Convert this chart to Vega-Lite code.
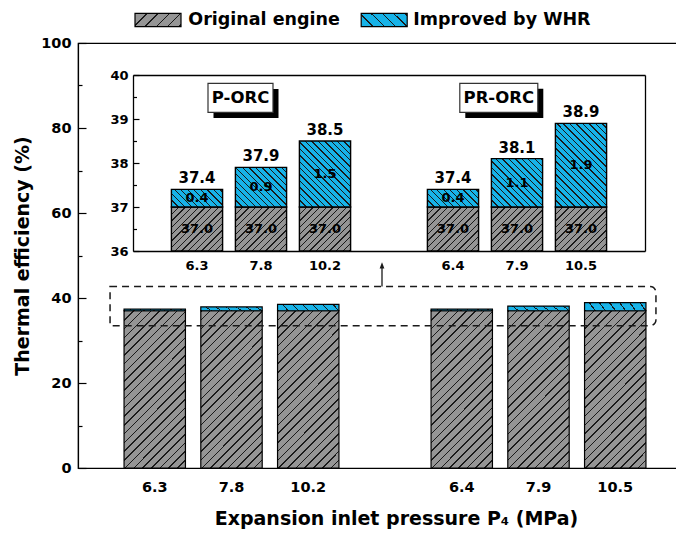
{
  "$schema": "https://vega.github.io/schema/vega-lite/v6.json",
  "width": 614,
  "height": 425,
  "autosize": "none",
  "padding": {"left": 78, "top": 43, "right": 0, "bottom": 66},
  "config": {
    "font": "DejaVu Sans",
    "view": {"stroke": "black", "strokeWidth": 1.2},
    "axis": {"labelFont": "DejaVu Sans", "titleFont": "DejaVu Sans", "labelFontWeight": "bold", "titleFontWeight": "bold", "labelColor": "black", "titleColor": "black", "domainColor": "black", "tickColor": "black", "domainWidth": 1.2, "tickWidth": 1.2, "grid": false},
    "text": {"font": "DejaVu Sans", "color": "black"}
  },
  "datasets": {
    "efficiency": [
      {"cycle": "P-ORC", "p": "6.3", "component": "Original engine", "value": 37.0},
      {"cycle": "P-ORC", "p": "6.3", "component": "Improved by WHR", "value": 0.4},
      {"cycle": "P-ORC", "p": "7.8", "component": "Original engine", "value": 37.0},
      {"cycle": "P-ORC", "p": "7.8", "component": "Improved by WHR", "value": 0.9},
      {"cycle": "P-ORC", "p": "10.2", "component": "Original engine", "value": 37.0},
      {"cycle": "P-ORC", "p": "10.2", "component": "Improved by WHR", "value": 1.5},
      {"cycle": "PR-ORC", "p": "6.4", "component": "Original engine", "value": 37.0},
      {"cycle": "PR-ORC", "p": "6.4", "component": "Improved by WHR", "value": 0.4},
      {"cycle": "PR-ORC", "p": "7.9", "component": "Original engine", "value": 37.0},
      {"cycle": "PR-ORC", "p": "7.9", "component": "Improved by WHR", "value": 1.1},
      {"cycle": "PR-ORC", "p": "10.5", "component": "Original engine", "value": 37.0},
      {"cycle": "PR-ORC", "p": "10.5", "component": "Improved by WHR", "value": 1.9}
    ]
  },
  "layer": [
    {
      "layer": [
        {
          "data": {"name": "efficiency"},
          "mark": {"type": "bar", "stroke": "black", "strokeWidth": 1.2},
          "encoding": {
            "x": {"field": "p", "type": "nominal", "sort": null,
              "scale": {"domain": ["6.3", "7.8", "10.2", " ", "6.4", "7.9", "10.5"], "paddingInner": 0.2, "paddingOuter": 0.6},
              "axis": {"orient": "bottom", "title": "Expansion inlet pressure P₄ (MPa)", "labelAngle": 0, "ticks": false, "labelFontSize": 14.5, "labelPadding": 12, "titleFontSize": 19, "titlePadding": 16, "titleX": 318, "titleAlign": "center"}},
            "y": {"field": "value", "type": "quantitative", "stack": "zero",
              "scale": {"domain": [0, 100], "nice": false},
              "axis": {"orient": "left", "title": "Thermal efficiency (%)", "values": [0, 10, 20, 30, 40, 50, 60, 70, 80, 90, 100],
                "labelExpr": "datum.value % 20 === 0 ? datum.label : ''",
                "tickSize": {"condition": {"test": "datum.value % 20 === 0", "value": -8}, "value": -4},
                "labelPadding": 15, "labelFontSize": 14.5, "titleFontSize": 19, "titlePadding": 8}},
            "order": {"field": "component", "sort": "descending"},
            "fill": {
              "field": "component", "type": "nominal",
              "scale": {"domain": ["Original engine", "Improved by WHR"], "range": ["#959595", "#17b3e8"]},
              "legend": null,
              "condition": [
                {"test": "datum.component === 'Original engine'", "value": {"gradient": "linear", "x1": 0, "y1": 0, "x2": 0.4714, "y2": 1.2066, "stops": [
                  {"offset": 0, "color": "#1a1a1a"}, {"offset": 0.007, "color": "#1a1a1a"}, {"offset": 0.007, "color": "#959595"}, {"offset": 0.04, "color": "#959595"},
                  {"offset": 0.04, "color": "#1a1a1a"}, {"offset": 0.047, "color": "#1a1a1a"}, {"offset": 0.047, "color": "#959595"}, {"offset": 0.08, "color": "#959595"},
                  {"offset": 0.08, "color": "#1a1a1a"}, {"offset": 0.087, "color": "#1a1a1a"}, {"offset": 0.087, "color": "#959595"}, {"offset": 0.12, "color": "#959595"},
                  {"offset": 0.12, "color": "#1a1a1a"}, {"offset": 0.127, "color": "#1a1a1a"}, {"offset": 0.127, "color": "#959595"}, {"offset": 0.16, "color": "#959595"},
                  {"offset": 0.16, "color": "#1a1a1a"}, {"offset": 0.167, "color": "#1a1a1a"}, {"offset": 0.167, "color": "#959595"}, {"offset": 0.2, "color": "#959595"},
                  {"offset": 0.2, "color": "#1a1a1a"}, {"offset": 0.207, "color": "#1a1a1a"}, {"offset": 0.207, "color": "#959595"}, {"offset": 0.24, "color": "#959595"},
                  {"offset": 0.24, "color": "#1a1a1a"}, {"offset": 0.247, "color": "#1a1a1a"}, {"offset": 0.247, "color": "#959595"}, {"offset": 0.28, "color": "#959595"},
                  {"offset": 0.28, "color": "#1a1a1a"}, {"offset": 0.287, "color": "#1a1a1a"}, {"offset": 0.287, "color": "#959595"}, {"offset": 0.32, "color": "#959595"},
                  {"offset": 0.32, "color": "#1a1a1a"}, {"offset": 0.327, "color": "#1a1a1a"}, {"offset": 0.327, "color": "#959595"}, {"offset": 0.36, "color": "#959595"},
                  {"offset": 0.36, "color": "#1a1a1a"}, {"offset": 0.367, "color": "#1a1a1a"}, {"offset": 0.367, "color": "#959595"}, {"offset": 0.4, "color": "#959595"},
                  {"offset": 0.4, "color": "#1a1a1a"}, {"offset": 0.407, "color": "#1a1a1a"}, {"offset": 0.407, "color": "#959595"}, {"offset": 0.44, "color": "#959595"},
                  {"offset": 0.44, "color": "#1a1a1a"}, {"offset": 0.447, "color": "#1a1a1a"}, {"offset": 0.447, "color": "#959595"}, {"offset": 0.48, "color": "#959595"},
                  {"offset": 0.48, "color": "#1a1a1a"}, {"offset": 0.487, "color": "#1a1a1a"}, {"offset": 0.487, "color": "#959595"}, {"offset": 0.52, "color": "#959595"},
                  {"offset": 0.52, "color": "#1a1a1a"}, {"offset": 0.527, "color": "#1a1a1a"}, {"offset": 0.527, "color": "#959595"}, {"offset": 0.56, "color": "#959595"},
                  {"offset": 0.56, "color": "#1a1a1a"}, {"offset": 0.567, "color": "#1a1a1a"}, {"offset": 0.567, "color": "#959595"}, {"offset": 0.6, "color": "#959595"},
                  {"offset": 0.6, "color": "#1a1a1a"}, {"offset": 0.607, "color": "#1a1a1a"}, {"offset": 0.607, "color": "#959595"}, {"offset": 0.64, "color": "#959595"},
                  {"offset": 0.64, "color": "#1a1a1a"}, {"offset": 0.647, "color": "#1a1a1a"}, {"offset": 0.647, "color": "#959595"}, {"offset": 0.68, "color": "#959595"},
                  {"offset": 0.68, "color": "#1a1a1a"}, {"offset": 0.687, "color": "#1a1a1a"}, {"offset": 0.687, "color": "#959595"}, {"offset": 0.72, "color": "#959595"},
                  {"offset": 0.72, "color": "#1a1a1a"}, {"offset": 0.727, "color": "#1a1a1a"}, {"offset": 0.727, "color": "#959595"}, {"offset": 0.76, "color": "#959595"},
                  {"offset": 0.76, "color": "#1a1a1a"}, {"offset": 0.767, "color": "#1a1a1a"}, {"offset": 0.767, "color": "#959595"}, {"offset": 0.8, "color": "#959595"},
                  {"offset": 0.8, "color": "#1a1a1a"}, {"offset": 0.807, "color": "#1a1a1a"}, {"offset": 0.807, "color": "#959595"}, {"offset": 0.84, "color": "#959595"},
                  {"offset": 0.84, "color": "#1a1a1a"}, {"offset": 0.847, "color": "#1a1a1a"}, {"offset": 0.847, "color": "#959595"}, {"offset": 0.88, "color": "#959595"},
                  {"offset": 0.88, "color": "#1a1a1a"}, {"offset": 0.887, "color": "#1a1a1a"}, {"offset": 0.887, "color": "#959595"}, {"offset": 0.92, "color": "#959595"},
                  {"offset": 0.92, "color": "#1a1a1a"}, {"offset": 0.927, "color": "#1a1a1a"}, {"offset": 0.927, "color": "#959595"}, {"offset": 0.96, "color": "#959595"},
                  {"offset": 0.96, "color": "#1a1a1a"}, {"offset": 0.967, "color": "#1a1a1a"}, {"offset": 0.967, "color": "#959595"}, {"offset": 1, "color": "#959595"}]}},
                {"test": "datum.component === 'Improved by WHR'", "value": {"gradient": "linear", "x1": 0, "y1": 1, "x2": 1.0866, "y2": 0.8939, "stops": [
                  {"offset": 0, "color": "#1a1a1a"}, {"offset": 0.02, "color": "#1a1a1a"}, {"offset": 0.02, "color": "#17b3e8"}, {"offset": 0.15, "color": "#17b3e8"},
                  {"offset": 0.15, "color": "#1a1a1a"}, {"offset": 0.17, "color": "#1a1a1a"}, {"offset": 0.17, "color": "#17b3e8"}, {"offset": 0.3, "color": "#17b3e8"},
                  {"offset": 0.3, "color": "#1a1a1a"}, {"offset": 0.32, "color": "#1a1a1a"}, {"offset": 0.32, "color": "#17b3e8"}, {"offset": 0.45, "color": "#17b3e8"},
                  {"offset": 0.45, "color": "#1a1a1a"}, {"offset": 0.47, "color": "#1a1a1a"}, {"offset": 0.47, "color": "#17b3e8"}, {"offset": 0.6, "color": "#17b3e8"},
                  {"offset": 0.6, "color": "#1a1a1a"}, {"offset": 0.62, "color": "#1a1a1a"}, {"offset": 0.62, "color": "#17b3e8"}, {"offset": 0.75, "color": "#17b3e8"},
                  {"offset": 0.75, "color": "#1a1a1a"}, {"offset": 0.77, "color": "#1a1a1a"}, {"offset": 0.77, "color": "#17b3e8"}, {"offset": 0.9, "color": "#17b3e8"},
                  {"offset": 0.9, "color": "#1a1a1a"}, {"offset": 0.92, "color": "#1a1a1a"}, {"offset": 0.92, "color": "#17b3e8"}, {"offset": 1, "color": "#17b3e8"}]}}
              ]
            }
          }
        },
        {
          "data": {"values": [{"component": "Original engine"}]},
          "layer": [
            {"mark": {"type": "point", "shape": "M-1,-0.29H1V0.29H-1Z", "size": 2116, "filled": true, "opacity": 1, "stroke": "black", "strokeWidth": 1.2, "xOffset": 3.25,
              "fill": {"gradient": "linear", "x1": 0, "y1": 0, "x2": 1.1903, "y2": 0.3467, "stops": [
                {"offset": 0, "color": "#1a1a1a"}, {"offset": 0.024, "color": "#1a1a1a"}, {"offset": 0.024, "color": "#959595"}, {"offset": 0.19, "color": "#959595"},
                {"offset": 0.19, "color": "#1a1a1a"}, {"offset": 0.214, "color": "#1a1a1a"}, {"offset": 0.214, "color": "#959595"}, {"offset": 0.38, "color": "#959595"},
                {"offset": 0.38, "color": "#1a1a1a"}, {"offset": 0.404, "color": "#1a1a1a"}, {"offset": 0.404, "color": "#959595"}, {"offset": 0.57, "color": "#959595"},
                {"offset": 0.57, "color": "#1a1a1a"}, {"offset": 0.594, "color": "#1a1a1a"}, {"offset": 0.594, "color": "#959595"}, {"offset": 0.76, "color": "#959595"},
                {"offset": 0.76, "color": "#1a1a1a"}, {"offset": 0.784, "color": "#1a1a1a"}, {"offset": 0.784, "color": "#959595"}, {"offset": 0.95, "color": "#959595"},
                {"offset": 0.95, "color": "#1a1a1a"}, {"offset": 0.974, "color": "#1a1a1a"}, {"offset": 0.974, "color": "#959595"}, {"offset": 1, "color": "#959595"}]}}},
            {"mark": {"type": "text", "fontSize": 17.5, "fontWeight": "bold", "align": "left", "baseline": "middle", "xOffset": 33.5}, "encoding": {"text": {"field": "component"}}}
          ],
          "encoding": {
            "x": {"datum": "6.3", "type": "nominal"},
            "y": {"datum": 105.4, "type": "quantitative"}
          }
        },
        {
          "data": {"values": [{"component": "Improved by WHR"}]},
          "layer": [
            {"mark": {"type": "point", "shape": "M-1,-0.29H1V0.29H-1Z", "size": 2116, "filled": true, "opacity": 1, "stroke": "black", "strokeWidth": 1.2, "xOffset": -0.8,
              "fill": {"gradient": "linear", "x1": 0, "y1": 1, "x2": 1.1903, "y2": 0.6533, "stops": [
                {"offset": 0, "color": "#1a1a1a"}, {"offset": 0.024, "color": "#1a1a1a"}, {"offset": 0.024, "color": "#17b3e8"}, {"offset": 0.19, "color": "#17b3e8"},
                {"offset": 0.19, "color": "#1a1a1a"}, {"offset": 0.214, "color": "#1a1a1a"}, {"offset": 0.214, "color": "#17b3e8"}, {"offset": 0.38, "color": "#17b3e8"},
                {"offset": 0.38, "color": "#1a1a1a"}, {"offset": 0.404, "color": "#1a1a1a"}, {"offset": 0.404, "color": "#17b3e8"}, {"offset": 0.57, "color": "#17b3e8"},
                {"offset": 0.57, "color": "#1a1a1a"}, {"offset": 0.594, "color": "#1a1a1a"}, {"offset": 0.594, "color": "#17b3e8"}, {"offset": 0.76, "color": "#17b3e8"},
                {"offset": 0.76, "color": "#1a1a1a"}, {"offset": 0.784, "color": "#1a1a1a"}, {"offset": 0.784, "color": "#17b3e8"}, {"offset": 0.95, "color": "#17b3e8"},
                {"offset": 0.95, "color": "#1a1a1a"}, {"offset": 0.974, "color": "#1a1a1a"}, {"offset": 0.974, "color": "#17b3e8"}, {"offset": 1, "color": "#17b3e8"}]}}},
            {"mark": {"type": "text", "fontSize": 17.5, "fontWeight": "bold", "align": "left", "baseline": "middle", "xOffset": 28.3}, "encoding": {"text": {"field": "component"}}}
          ],
          "encoding": {
            "x": {"datum": " ", "type": "nominal"},
            "y": {"datum": 105.4, "type": "quantitative"}
          }
        },
        {
          "data": {"values": [{}]},
          "mark": {"type": "rect", "fill": "white", "fillOpacity": 0, "stroke": "#1a1a1a", "strokeWidth": 1.5, "strokeDash": [7, 5], "cornerRadiusTopRight": 6, "cornerRadiusBottomRight": 6, "xOffset": -14, "x2Offset": 10},
          "encoding": {
            "x": {"datum": "6.3", "type": "nominal", "bandPosition": 0},
            "x2": {"datum": "10.5", "bandPosition": 1},
            "y": {"datum": 33.5, "type": "quantitative"},
            "y2": {"datum": 42.7}
          }
        },
        {
          "data": {"values": [{}]},
          "mark": {"type": "rule", "stroke": "#1a1a1a", "strokeWidth": 1.3, "xOffset": -3},
          "encoding": {
            "x": {"datum": " ", "type": "nominal"},
            "y": {"datum": 42.7, "type": "quantitative"},
            "y2": {"datum": 47.2}
          }
        },
        {
          "data": {"values": [{}]},
          "mark": {"type": "point", "shape": "M0,-1L0.6,0.6L-0.6,0.6Z", "size": 64, "filled": true, "fill": "#1a1a1a", "opacity": 1, "strokeWidth": 0, "xOffset": -3},
          "encoding": {
            "x": {"datum": " ", "type": "nominal"},
            "y": {"datum": 47.5, "type": "quantitative"}
          }
        }
      ]
    },
    {
      "layer": [
        {
          "data": {"name": "efficiency"},
          "mark": {"type": "bar", "stroke": "black", "strokeWidth": 1.4},
          "encoding": {
            "x": {"field": "p", "type": "nominal", "sort": null,
              "scale": {"domain": ["6.3", "7.8", "10.2", " ", "6.4", "7.9", "10.5"], "range": [55, 567], "paddingInner": 0.2, "paddingOuter": 0.6},
              "axis": {"orient": "bottom", "offset": -217, "title": null, "labelAngle": 0, "ticks": false, "labelFontSize": 13, "labelPadding": 8, "domainWidth": 1.3}},
            "y": {"field": "value", "type": "quantitative", "stack": "zero",
              "scale": {"domain": [36, 40], "range": [208, 32], "clamp": true, "zero": false, "nice": false},
              "axis": {"orient": "left", "offset": -55, "title": null, "values": [36, 36.5, 37, 37.5, 38, 38.5, 39, 39.5, 40],
                "labelExpr": "datum.value % 1 === 0 ? format(datum.value, 'd') : ''",
                "tickSize": {"condition": {"test": "datum.value % 1 === 0", "value": -6}, "value": -3.5},
                "labelPadding": 11, "labelFontSize": 13, "domainWidth": 1.3}},
            "order": {"field": "component", "sort": "descending"},
            "detail": {"field": "component"},
            "fill": {
              "condition": [
                {"test": "datum.component === 'Original engine'", "value": {"gradient": "linear", "x1": 0, "y1": 0, "x2": 1.0695, "y2": 0.9191, "stops": [
                  {"offset": 0, "color": "#1a1a1a"}, {"offset": 0.015, "color": "#1a1a1a"}, {"offset": 0.015, "color": "#959595"}, {"offset": 0.07, "color": "#959595"},
                  {"offset": 0.07, "color": "#1a1a1a"}, {"offset": 0.085, "color": "#1a1a1a"}, {"offset": 0.085, "color": "#959595"}, {"offset": 0.14, "color": "#959595"},
                  {"offset": 0.14, "color": "#1a1a1a"}, {"offset": 0.155, "color": "#1a1a1a"}, {"offset": 0.155, "color": "#959595"}, {"offset": 0.21, "color": "#959595"},
                  {"offset": 0.21, "color": "#1a1a1a"}, {"offset": 0.225, "color": "#1a1a1a"}, {"offset": 0.225, "color": "#959595"}, {"offset": 0.28, "color": "#959595"},
                  {"offset": 0.28, "color": "#1a1a1a"}, {"offset": 0.295, "color": "#1a1a1a"}, {"offset": 0.295, "color": "#959595"}, {"offset": 0.35, "color": "#959595"},
                  {"offset": 0.35, "color": "#1a1a1a"}, {"offset": 0.365, "color": "#1a1a1a"}, {"offset": 0.365, "color": "#959595"}, {"offset": 0.42, "color": "#959595"},
                  {"offset": 0.42, "color": "#1a1a1a"}, {"offset": 0.435, "color": "#1a1a1a"}, {"offset": 0.435, "color": "#959595"}, {"offset": 0.49, "color": "#959595"},
                  {"offset": 0.49, "color": "#1a1a1a"}, {"offset": 0.505, "color": "#1a1a1a"}, {"offset": 0.505, "color": "#959595"}, {"offset": 0.56, "color": "#959595"},
                  {"offset": 0.56, "color": "#1a1a1a"}, {"offset": 0.575, "color": "#1a1a1a"}, {"offset": 0.575, "color": "#959595"}, {"offset": 0.63, "color": "#959595"},
                  {"offset": 0.63, "color": "#1a1a1a"}, {"offset": 0.645, "color": "#1a1a1a"}, {"offset": 0.645, "color": "#959595"}, {"offset": 0.7, "color": "#959595"},
                  {"offset": 0.7, "color": "#1a1a1a"}, {"offset": 0.715, "color": "#1a1a1a"}, {"offset": 0.715, "color": "#959595"}, {"offset": 0.77, "color": "#959595"},
                  {"offset": 0.77, "color": "#1a1a1a"}, {"offset": 0.785, "color": "#1a1a1a"}, {"offset": 0.785, "color": "#959595"}, {"offset": 0.84, "color": "#959595"},
                  {"offset": 0.84, "color": "#1a1a1a"}, {"offset": 0.855, "color": "#1a1a1a"}, {"offset": 0.855, "color": "#959595"}, {"offset": 0.91, "color": "#959595"},
                  {"offset": 0.91, "color": "#1a1a1a"}, {"offset": 0.925, "color": "#1a1a1a"}, {"offset": 0.925, "color": "#959595"}, {"offset": 0.98, "color": "#959595"},
                  {"offset": 0.98, "color": "#1a1a1a"}, {"offset": 0.995, "color": "#1a1a1a"}, {"offset": 0.995, "color": "#959595"}, {"offset": 1, "color": "#959595"}]}},
                {"test": "datum.value === 0.4", "value": {"gradient": "linear", "x1": 0, "y1": 1, "x2": 1.2018, "y2": 0.5869, "stops": [
                  {"offset": 0, "color": "#1a1a1a"}, {"offset": 0.02, "color": "#1a1a1a"}, {"offset": 0.02, "color": "#17b3e8"}, {"offset": 0.095, "color": "#17b3e8"},
                  {"offset": 0.095, "color": "#1a1a1a"}, {"offset": 0.115, "color": "#1a1a1a"}, {"offset": 0.115, "color": "#17b3e8"}, {"offset": 0.19, "color": "#17b3e8"},
                  {"offset": 0.19, "color": "#1a1a1a"}, {"offset": 0.21, "color": "#1a1a1a"}, {"offset": 0.21, "color": "#17b3e8"}, {"offset": 0.285, "color": "#17b3e8"},
                  {"offset": 0.285, "color": "#1a1a1a"}, {"offset": 0.305, "color": "#1a1a1a"}, {"offset": 0.305, "color": "#17b3e8"}, {"offset": 0.38, "color": "#17b3e8"},
                  {"offset": 0.38, "color": "#1a1a1a"}, {"offset": 0.4, "color": "#1a1a1a"}, {"offset": 0.4, "color": "#17b3e8"}, {"offset": 0.475, "color": "#17b3e8"},
                  {"offset": 0.475, "color": "#1a1a1a"}, {"offset": 0.495, "color": "#1a1a1a"}, {"offset": 0.495, "color": "#17b3e8"}, {"offset": 0.57, "color": "#17b3e8"},
                  {"offset": 0.57, "color": "#1a1a1a"}, {"offset": 0.59, "color": "#1a1a1a"}, {"offset": 0.59, "color": "#17b3e8"}, {"offset": 0.665, "color": "#17b3e8"},
                  {"offset": 0.665, "color": "#1a1a1a"}, {"offset": 0.685, "color": "#1a1a1a"}, {"offset": 0.685, "color": "#17b3e8"}, {"offset": 0.76, "color": "#17b3e8"},
                  {"offset": 0.76, "color": "#1a1a1a"}, {"offset": 0.78, "color": "#1a1a1a"}, {"offset": 0.78, "color": "#17b3e8"}, {"offset": 0.855, "color": "#17b3e8"},
                  {"offset": 0.855, "color": "#1a1a1a"}, {"offset": 0.875, "color": "#1a1a1a"}, {"offset": 0.875, "color": "#17b3e8"}, {"offset": 0.95, "color": "#17b3e8"},
                  {"offset": 0.95, "color": "#1a1a1a"}, {"offset": 0.97, "color": "#1a1a1a"}, {"offset": 0.97, "color": "#17b3e8"}, {"offset": 1, "color": "#17b3e8"}]}},
                {"test": "datum.value === 0.9", "value": {"gradient": "linear", "x1": 0, "y1": 1, "x2": 1.1097, "y2": 0.1418, "stops": [
                  {"offset": 0, "color": "#1a1a1a"}, {"offset": 0.015, "color": "#1a1a1a"}, {"offset": 0.015, "color": "#17b3e8"}, {"offset": 0.072, "color": "#17b3e8"},
                  {"offset": 0.072, "color": "#1a1a1a"}, {"offset": 0.087, "color": "#1a1a1a"}, {"offset": 0.087, "color": "#17b3e8"}, {"offset": 0.144, "color": "#17b3e8"},
                  {"offset": 0.144, "color": "#1a1a1a"}, {"offset": 0.159, "color": "#1a1a1a"}, {"offset": 0.159, "color": "#17b3e8"}, {"offset": 0.216, "color": "#17b3e8"},
                  {"offset": 0.216, "color": "#1a1a1a"}, {"offset": 0.231, "color": "#1a1a1a"}, {"offset": 0.231, "color": "#17b3e8"}, {"offset": 0.288, "color": "#17b3e8"},
                  {"offset": 0.288, "color": "#1a1a1a"}, {"offset": 0.303, "color": "#1a1a1a"}, {"offset": 0.303, "color": "#17b3e8"}, {"offset": 0.36, "color": "#17b3e8"},
                  {"offset": 0.36, "color": "#1a1a1a"}, {"offset": 0.375, "color": "#1a1a1a"}, {"offset": 0.375, "color": "#17b3e8"}, {"offset": 0.432, "color": "#17b3e8"},
                  {"offset": 0.432, "color": "#1a1a1a"}, {"offset": 0.447, "color": "#1a1a1a"}, {"offset": 0.447, "color": "#17b3e8"}, {"offset": 0.504, "color": "#17b3e8"},
                  {"offset": 0.504, "color": "#1a1a1a"}, {"offset": 0.519, "color": "#1a1a1a"}, {"offset": 0.519, "color": "#17b3e8"}, {"offset": 0.576, "color": "#17b3e8"},
                  {"offset": 0.576, "color": "#1a1a1a"}, {"offset": 0.591, "color": "#1a1a1a"}, {"offset": 0.591, "color": "#17b3e8"}, {"offset": 0.648, "color": "#17b3e8"},
                  {"offset": 0.648, "color": "#1a1a1a"}, {"offset": 0.663, "color": "#1a1a1a"}, {"offset": 0.663, "color": "#17b3e8"}, {"offset": 0.72, "color": "#17b3e8"},
                  {"offset": 0.72, "color": "#1a1a1a"}, {"offset": 0.735, "color": "#1a1a1a"}, {"offset": 0.735, "color": "#17b3e8"}, {"offset": 0.792, "color": "#17b3e8"},
                  {"offset": 0.792, "color": "#1a1a1a"}, {"offset": 0.807, "color": "#1a1a1a"}, {"offset": 0.807, "color": "#17b3e8"}, {"offset": 0.864, "color": "#17b3e8"},
                  {"offset": 0.864, "color": "#1a1a1a"}, {"offset": 0.879, "color": "#1a1a1a"}, {"offset": 0.879, "color": "#17b3e8"}, {"offset": 0.936, "color": "#17b3e8"},
                  {"offset": 0.936, "color": "#1a1a1a"}, {"offset": 0.951, "color": "#1a1a1a"}, {"offset": 0.951, "color": "#17b3e8"}, {"offset": 1, "color": "#17b3e8"}]}},
                {"test": "datum.value === 1.5", "value": {"gradient": "linear", "x1": 0, "y1": 1, "x2": 0.86, "y2": -0.1086, "stops": [
                  {"offset": 0, "color": "#1a1a1a"}, {"offset": 0.012, "color": "#1a1a1a"}, {"offset": 0.012, "color": "#17b3e8"}, {"offset": 0.055, "color": "#17b3e8"},
                  {"offset": 0.055, "color": "#1a1a1a"}, {"offset": 0.067, "color": "#1a1a1a"}, {"offset": 0.067, "color": "#17b3e8"}, {"offset": 0.11, "color": "#17b3e8"},
                  {"offset": 0.11, "color": "#1a1a1a"}, {"offset": 0.122, "color": "#1a1a1a"}, {"offset": 0.122, "color": "#17b3e8"}, {"offset": 0.165, "color": "#17b3e8"},
                  {"offset": 0.165, "color": "#1a1a1a"}, {"offset": 0.177, "color": "#1a1a1a"}, {"offset": 0.177, "color": "#17b3e8"}, {"offset": 0.22, "color": "#17b3e8"},
                  {"offset": 0.22, "color": "#1a1a1a"}, {"offset": 0.232, "color": "#1a1a1a"}, {"offset": 0.232, "color": "#17b3e8"}, {"offset": 0.275, "color": "#17b3e8"},
                  {"offset": 0.275, "color": "#1a1a1a"}, {"offset": 0.287, "color": "#1a1a1a"}, {"offset": 0.287, "color": "#17b3e8"}, {"offset": 0.33, "color": "#17b3e8"},
                  {"offset": 0.33, "color": "#1a1a1a"}, {"offset": 0.342, "color": "#1a1a1a"}, {"offset": 0.342, "color": "#17b3e8"}, {"offset": 0.385, "color": "#17b3e8"},
                  {"offset": 0.385, "color": "#1a1a1a"}, {"offset": 0.397, "color": "#1a1a1a"}, {"offset": 0.397, "color": "#17b3e8"}, {"offset": 0.44, "color": "#17b3e8"},
                  {"offset": 0.44, "color": "#1a1a1a"}, {"offset": 0.452, "color": "#1a1a1a"}, {"offset": 0.452, "color": "#17b3e8"}, {"offset": 0.495, "color": "#17b3e8"},
                  {"offset": 0.495, "color": "#1a1a1a"}, {"offset": 0.507, "color": "#1a1a1a"}, {"offset": 0.507, "color": "#17b3e8"}, {"offset": 0.55, "color": "#17b3e8"},
                  {"offset": 0.55, "color": "#1a1a1a"}, {"offset": 0.562, "color": "#1a1a1a"}, {"offset": 0.562, "color": "#17b3e8"}, {"offset": 0.605, "color": "#17b3e8"},
                  {"offset": 0.605, "color": "#1a1a1a"}, {"offset": 0.617, "color": "#1a1a1a"}, {"offset": 0.617, "color": "#17b3e8"}, {"offset": 0.66, "color": "#17b3e8"},
                  {"offset": 0.66, "color": "#1a1a1a"}, {"offset": 0.672, "color": "#1a1a1a"}, {"offset": 0.672, "color": "#17b3e8"}, {"offset": 0.715, "color": "#17b3e8"},
                  {"offset": 0.715, "color": "#1a1a1a"}, {"offset": 0.727, "color": "#1a1a1a"}, {"offset": 0.727, "color": "#17b3e8"}, {"offset": 0.77, "color": "#17b3e8"},
                  {"offset": 0.77, "color": "#1a1a1a"}, {"offset": 0.782, "color": "#1a1a1a"}, {"offset": 0.782, "color": "#17b3e8"}, {"offset": 0.825, "color": "#17b3e8"},
                  {"offset": 0.825, "color": "#1a1a1a"}, {"offset": 0.837, "color": "#1a1a1a"}, {"offset": 0.837, "color": "#17b3e8"}, {"offset": 0.88, "color": "#17b3e8"},
                  {"offset": 0.88, "color": "#1a1a1a"}, {"offset": 0.892, "color": "#1a1a1a"}, {"offset": 0.892, "color": "#17b3e8"}, {"offset": 0.935, "color": "#17b3e8"},
                  {"offset": 0.935, "color": "#1a1a1a"}, {"offset": 0.947, "color": "#1a1a1a"}, {"offset": 0.947, "color": "#17b3e8"}, {"offset": 0.99, "color": "#17b3e8"},
                  {"offset": 0.99, "color": "#1a1a1a"}, {"offset": 1, "color": "#1a1a1a"}]}},
                {"test": "datum.value === 1.1", "value": {"gradient": "linear", "x1": 0, "y1": 1, "x2": 1.0273, "y2": 0.0289, "stops": [
                  {"offset": 0, "color": "#1a1a1a"}, {"offset": 0.014, "color": "#1a1a1a"}, {"offset": 0.014, "color": "#17b3e8"}, {"offset": 0.065, "color": "#17b3e8"},
                  {"offset": 0.065, "color": "#1a1a1a"}, {"offset": 0.079, "color": "#1a1a1a"}, {"offset": 0.079, "color": "#17b3e8"}, {"offset": 0.13, "color": "#17b3e8"},
                  {"offset": 0.13, "color": "#1a1a1a"}, {"offset": 0.144, "color": "#1a1a1a"}, {"offset": 0.144, "color": "#17b3e8"}, {"offset": 0.195, "color": "#17b3e8"},
                  {"offset": 0.195, "color": "#1a1a1a"}, {"offset": 0.209, "color": "#1a1a1a"}, {"offset": 0.209, "color": "#17b3e8"}, {"offset": 0.26, "color": "#17b3e8"},
                  {"offset": 0.26, "color": "#1a1a1a"}, {"offset": 0.274, "color": "#1a1a1a"}, {"offset": 0.274, "color": "#17b3e8"}, {"offset": 0.325, "color": "#17b3e8"},
                  {"offset": 0.325, "color": "#1a1a1a"}, {"offset": 0.339, "color": "#1a1a1a"}, {"offset": 0.339, "color": "#17b3e8"}, {"offset": 0.39, "color": "#17b3e8"},
                  {"offset": 0.39, "color": "#1a1a1a"}, {"offset": 0.404, "color": "#1a1a1a"}, {"offset": 0.404, "color": "#17b3e8"}, {"offset": 0.455, "color": "#17b3e8"},
                  {"offset": 0.455, "color": "#1a1a1a"}, {"offset": 0.469, "color": "#1a1a1a"}, {"offset": 0.469, "color": "#17b3e8"}, {"offset": 0.52, "color": "#17b3e8"},
                  {"offset": 0.52, "color": "#1a1a1a"}, {"offset": 0.534, "color": "#1a1a1a"}, {"offset": 0.534, "color": "#17b3e8"}, {"offset": 0.585, "color": "#17b3e8"},
                  {"offset": 0.585, "color": "#1a1a1a"}, {"offset": 0.599, "color": "#1a1a1a"}, {"offset": 0.599, "color": "#17b3e8"}, {"offset": 0.65, "color": "#17b3e8"},
                  {"offset": 0.65, "color": "#1a1a1a"}, {"offset": 0.664, "color": "#1a1a1a"}, {"offset": 0.664, "color": "#17b3e8"}, {"offset": 0.715, "color": "#17b3e8"},
                  {"offset": 0.715, "color": "#1a1a1a"}, {"offset": 0.729, "color": "#1a1a1a"}, {"offset": 0.729, "color": "#17b3e8"}, {"offset": 0.78, "color": "#17b3e8"},
                  {"offset": 0.78, "color": "#1a1a1a"}, {"offset": 0.794, "color": "#1a1a1a"}, {"offset": 0.794, "color": "#17b3e8"}, {"offset": 0.845, "color": "#17b3e8"},
                  {"offset": 0.845, "color": "#1a1a1a"}, {"offset": 0.859, "color": "#1a1a1a"}, {"offset": 0.859, "color": "#17b3e8"}, {"offset": 0.91, "color": "#17b3e8"},
                  {"offset": 0.91, "color": "#1a1a1a"}, {"offset": 0.924, "color": "#1a1a1a"}, {"offset": 0.924, "color": "#17b3e8"}, {"offset": 0.975, "color": "#17b3e8"},
                  {"offset": 0.975, "color": "#1a1a1a"}, {"offset": 0.989, "color": "#1a1a1a"}, {"offset": 0.989, "color": "#17b3e8"}, {"offset": 1, "color": "#17b3e8"}]}}
              ],
              "value": {"gradient": "linear", "x1": 0, "y1": 1, "x2": 0.7182, "y2": -0.1726, "stops": [
                {"offset": 0, "color": "#1a1a1a"}, {"offset": 0.011, "color": "#1a1a1a"}, {"offset": 0.011, "color": "#17b3e8"}, {"offset": 0.048, "color": "#17b3e8"},
                {"offset": 0.048, "color": "#1a1a1a"}, {"offset": 0.059, "color": "#1a1a1a"}, {"offset": 0.059, "color": "#17b3e8"}, {"offset": 0.096, "color": "#17b3e8"},
                {"offset": 0.096, "color": "#1a1a1a"}, {"offset": 0.107, "color": "#1a1a1a"}, {"offset": 0.107, "color": "#17b3e8"}, {"offset": 0.144, "color": "#17b3e8"},
                {"offset": 0.144, "color": "#1a1a1a"}, {"offset": 0.155, "color": "#1a1a1a"}, {"offset": 0.155, "color": "#17b3e8"}, {"offset": 0.192, "color": "#17b3e8"},
                {"offset": 0.192, "color": "#1a1a1a"}, {"offset": 0.203, "color": "#1a1a1a"}, {"offset": 0.203, "color": "#17b3e8"}, {"offset": 0.24, "color": "#17b3e8"},
                {"offset": 0.24, "color": "#1a1a1a"}, {"offset": 0.251, "color": "#1a1a1a"}, {"offset": 0.251, "color": "#17b3e8"}, {"offset": 0.288, "color": "#17b3e8"},
                {"offset": 0.288, "color": "#1a1a1a"}, {"offset": 0.299, "color": "#1a1a1a"}, {"offset": 0.299, "color": "#17b3e8"}, {"offset": 0.336, "color": "#17b3e8"},
                {"offset": 0.336, "color": "#1a1a1a"}, {"offset": 0.347, "color": "#1a1a1a"}, {"offset": 0.347, "color": "#17b3e8"}, {"offset": 0.384, "color": "#17b3e8"},
                {"offset": 0.384, "color": "#1a1a1a"}, {"offset": 0.395, "color": "#1a1a1a"}, {"offset": 0.395, "color": "#17b3e8"}, {"offset": 0.432, "color": "#17b3e8"},
                {"offset": 0.432, "color": "#1a1a1a"}, {"offset": 0.443, "color": "#1a1a1a"}, {"offset": 0.443, "color": "#17b3e8"}, {"offset": 0.48, "color": "#17b3e8"},
                {"offset": 0.48, "color": "#1a1a1a"}, {"offset": 0.491, "color": "#1a1a1a"}, {"offset": 0.491, "color": "#17b3e8"}, {"offset": 0.528, "color": "#17b3e8"},
                {"offset": 0.528, "color": "#1a1a1a"}, {"offset": 0.539, "color": "#1a1a1a"}, {"offset": 0.539, "color": "#17b3e8"}, {"offset": 0.576, "color": "#17b3e8"},
                {"offset": 0.576, "color": "#1a1a1a"}, {"offset": 0.587, "color": "#1a1a1a"}, {"offset": 0.587, "color": "#17b3e8"}, {"offset": 0.624, "color": "#17b3e8"},
                {"offset": 0.624, "color": "#1a1a1a"}, {"offset": 0.635, "color": "#1a1a1a"}, {"offset": 0.635, "color": "#17b3e8"}, {"offset": 0.672, "color": "#17b3e8"},
                {"offset": 0.672, "color": "#1a1a1a"}, {"offset": 0.683, "color": "#1a1a1a"}, {"offset": 0.683, "color": "#17b3e8"}, {"offset": 0.72, "color": "#17b3e8"},
                {"offset": 0.72, "color": "#1a1a1a"}, {"offset": 0.731, "color": "#1a1a1a"}, {"offset": 0.731, "color": "#17b3e8"}, {"offset": 0.768, "color": "#17b3e8"},
                {"offset": 0.768, "color": "#1a1a1a"}, {"offset": 0.779, "color": "#1a1a1a"}, {"offset": 0.779, "color": "#17b3e8"}, {"offset": 0.816, "color": "#17b3e8"},
                {"offset": 0.816, "color": "#1a1a1a"}, {"offset": 0.827, "color": "#1a1a1a"}, {"offset": 0.827, "color": "#17b3e8"}, {"offset": 0.864, "color": "#17b3e8"},
                {"offset": 0.864, "color": "#1a1a1a"}, {"offset": 0.875, "color": "#1a1a1a"}, {"offset": 0.875, "color": "#17b3e8"}, {"offset": 0.912, "color": "#17b3e8"},
                {"offset": 0.912, "color": "#1a1a1a"}, {"offset": 0.923, "color": "#1a1a1a"}, {"offset": 0.923, "color": "#17b3e8"}, {"offset": 0.96, "color": "#17b3e8"},
                {"offset": 0.96, "color": "#1a1a1a"}, {"offset": 0.971, "color": "#1a1a1a"}, {"offset": 0.971, "color": "#17b3e8"}, {"offset": 1, "color": "#17b3e8"}]}
            }
          }
        },
        {
          "data": {"name": "efficiency"},
          "transform": [{"aggregate": [{"op": "sum", "field": "value", "as": "total"}], "groupby": ["p"]}],
          "mark": {"type": "text", "fontSize": 15, "fontWeight": "bold", "baseline": "alphabetic", "dy": -6},
          "encoding": {
            "x": {"field": "p", "type": "nominal", "axis": null},
            "y": {"field": "total", "type": "quantitative", "axis": null},
            "text": {"field": "total", "type": "quantitative", "format": ".1f"}
          }
        },
        {
          "data": {"name": "efficiency"},
          "transform": [
            {"stack": "value", "groupby": ["p"], "sort": [{"field": "component", "order": "descending"}], "as": ["v0", "v1"]},
            {"filter": "datum.component === 'Improved by WHR'"},
            {"calculate": "(datum.v0 + datum.v1) / 2", "as": "mid"}
          ],
          "mark": {"type": "text", "fontSize": 13, "fontWeight": "bold", "baseline": "middle"},
          "encoding": {
            "x": {"field": "p", "type": "nominal", "axis": null},
            "y": {"field": "mid", "type": "quantitative", "axis": null},
            "text": {"field": "value", "type": "quantitative", "format": ".1f"}
          }
        },
        {
          "data": {"name": "efficiency"},
          "transform": [{"filter": "datum.component === 'Original engine'"}],
          "mark": {"type": "text", "fontSize": 13, "fontWeight": "bold", "baseline": "middle"},
          "encoding": {
            "x": {"field": "p", "type": "nominal", "axis": null},
            "y": {"datum": 36.5, "type": "quantitative", "axis": null},
            "text": {"field": "value", "type": "quantitative", "format": ".1f"}
          }
        },
        {
          "data": {"name": "efficiency"},
          "mark": {"type": "point", "opacity": 0},
          "encoding": {
            "x": {"field": "p", "type": "nominal", "axis": {"orient": "top", "offset": -32, "title": null, "labels": false, "ticks": false, "domainWidth": 1.3}},
            "y": {"field": "value", "type": "quantitative", "axis": {"orient": "right", "offset": -47, "title": null, "labels": false, "ticks": false, "domainWidth": 1.3}}
          }
        },
        {
          "data": {"values": [{"label": "P-ORC"}]},
          "layer": [
            {"mark": {"type": "point", "shape": "M-1,-0.446H1V0.446H-1Z", "size": 4225, "filled": true, "fill": "black", "opacity": 1, "strokeWidth": 0, "xOffset": -15, "yOffset": 5.5}},
            {"mark": {"type": "point", "shape": "M-1,-0.446H1V0.446H-1Z", "size": 4225, "filled": true, "fill": "white", "opacity": 1, "stroke": "#333333", "strokeWidth": 1.2, "xOffset": -20.5}},
            {"mark": {"type": "text", "fontSize": 16.5, "fontWeight": "bold", "baseline": "middle", "xOffset": -20.5}, "encoding": {"text": {"field": "label"}}}
          ],
          "encoding": {
            "x": {"datum": "7.8", "type": "nominal", "axis": null},
            "y": {"datum": 39.48, "type": "quantitative", "axis": null}
          }
        },
        {
          "data": {"values": [{"label": "PR-ORC"}]},
          "layer": [
            {"mark": {"type": "point", "shape": "M-1,-0.372H1V0.372H-1Z", "size": 6084, "filled": true, "fill": "black", "opacity": 1, "strokeWidth": 0, "xOffset": -12.7, "yOffset": 5.5}},
            {"mark": {"type": "point", "shape": "M-1,-0.372H1V0.372H-1Z", "size": 6084, "filled": true, "fill": "white", "opacity": 1, "stroke": "#333333", "strokeWidth": 1.2, "xOffset": -18.2}},
            {"mark": {"type": "text", "fontSize": 16.5, "fontWeight": "bold", "baseline": "middle", "xOffset": -18.2}, "encoding": {"text": {"field": "label"}}}
          ],
          "encoding": {
            "x": {"datum": "7.9", "type": "nominal", "axis": null},
            "y": {"datum": 39.48, "type": "quantitative", "axis": null}
          }
        }
      ],
      "resolve": {"axis": {"x": "independent", "y": "independent"}}
    }
  ],
  "resolve": {"scale": {"x": "independent", "y": "independent"}, "axis": {"x": "independent", "y": "independent"}}
}
